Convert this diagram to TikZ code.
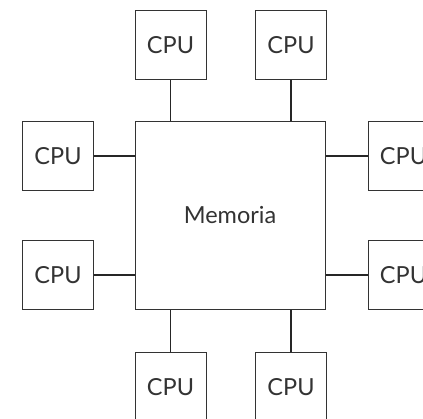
\documentclass[tikz,border=0pt]{standalone}
\usepackage{fontspec}
\setmainfont{Lato}
\begin{document}
\begin{tikzpicture}[x=1pt,y=-1pt,
  box/.style={draw=black!80, line width=1pt, minimum width=71pt, minimum height=69pt, inner sep=0pt, text=black!80, font=\fontsize{23.5}{28}\selectfont},
  membox/.style={draw=black!80, line width=1pt, minimum width=190pt, minimum height=188pt, inner sep=0pt, text=black!80, font=\fontsize{23.5}{28}\selectfont},
  link/.style={draw=black!85, line width=1.2pt}]
\useasboundingbox (0,0) rectangle (423,418);
\node[membox] (mem) at (230,215) {Memoria};
\node[box] (t1) at (170.5,45) {CPU};
\node[box] (t2) at (291,45) {CPU};
\node[box] (l1) at (58,156) {CPU};
\node[box] (l2) at (58,275) {CPU};
\node[box] (r1) at (403.5,156) {CPU};
\node[box] (r2) at (403.5,275) {CPU};
\node[box] (b1) at (170.5,387) {CPU};
\node[box] (b2) at (291,387) {CPU};
\draw[link] (t1.south) -- (t1.south |- mem.north);
\draw[link] (t2.south) -- (t2.south |- mem.north);
\draw[link] (b1.north) -- (b1.north |- mem.south);
\draw[link] (b2.north) -- (b2.north |- mem.south);
\draw[link] (l1.east) -- (l1.east -| mem.west);
\draw[link] (l2.east) -- (l2.east -| mem.west);
\draw[link] (r1.west) -- (r1.west -| mem.east);
\draw[link] (r2.west) -- (r2.west -| mem.east);
\end{tikzpicture}
\end{document}
